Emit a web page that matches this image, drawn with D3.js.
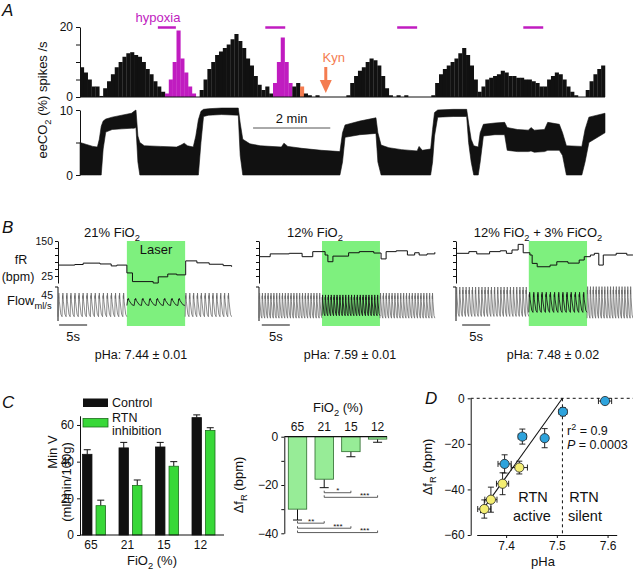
<!DOCTYPE html>
<html>
<head>
<meta charset="utf-8">
<script src="https://cdn.jsdelivr.net/npm/d3@7"></script>
<style>
  body { margin: 0; background: #fff; }
  svg { display: block; font-family: "Liberation Sans", Arial, Helvetica, sans-serif; }
</style>
</head>
<body>
<svg id="fig" width="633" height="573"></svg>
<script>
// ---------------- data ----------------
// Panel A: RTN spike rate, 6 s bins
const binSec = 6;
const spikes = [8.5, 7, 5, 3, 3, 0.3, 2.5, 4.5, 6.5, 8.5,
  10, 11.5, 12.5, 12.8, 12, 11.5, 10, 8, 6.5, 4.5,
  3, 1.5, 1, 5, 10, 19, 11, 7, 3, 1,
  0, 2, 5, 8, 10, 12, 13, 14, 15, 16.5,
  18, 16, 14, 11, 9, 6, 3.5, 2, 3, 1,
  4, 10, 17, 10, 4, 3, 4, 3, 1, 0.5,
  0, 0.5, 0, 0, 0, 0, 0, 0, 0, 0.5,
  4, 6, 7.5, 8.5, 10, 11, 10.5, 9, 6, 2.5,
  0.5, 0, 0.5, 0, 0.5, 0, 0, 0, 0, 0,
  0, 0.5, 4, 6.5, 8, 9, 10, 11, 12.5, 14,
  12, 9, 5, 1.5, 3, 5, 5.5, 6, 6.5, 7.5,
  7, 6, 6, 5.5, 5.5, 5, 5, 4.5, 4, 3,
  3, 5, 6, 7, 6.5, 5, 3, 1.5, 0.5, 0,
  0, 2, 4.5, 6.5, 8, 9];
const hypoxiaBins = [[22, 29], [50, 54]];
const kynBins = [[57, 57]];
const hypoxiaBars = [[121, 149], [288, 319], [493, 524], [689, 720]]; // seconds
const kynTime = 382;
const scaleBarA = [269, 389]; // 2 min

// end-expiratory CO2 envelope (time s, upper %, lower %)
const co2T = [0, 10, 20, 27, 30, 33, 36, 40, 50, 65, 80, 84, 87, 90, 93, 100, 125, 150, 157, 162,
  167, 176, 180, 184, 188, 192, 200, 220, 246, 249, 253, 264, 280, 313, 317, 323, 345, 375, 404, 408,
  412, 435, 460, 463, 468, 480, 500, 524, 527, 532, 545, 548, 551, 556, 580, 601, 604, 608, 612, 619,
  622, 627, 645, 660, 664, 680, 697, 701, 706, 722, 727, 745, 750, 756, 780, 785, 791, 816];
const co2Up = [5.0, 4.7, 4.4, 4.3, 5.5, 7.5, 8.3, 8.6, 8.9, 9.2, 9.5, 9.8, 10.0, 6.0, 5.0, 4.5, 4.4, 4.3, 4.6, 4.9,
  4.5, 4.3, 6.0, 8.5, 9.8, 10.1, 10.2, 10.3, 10.3, 8.0, 5.5, 4.8, 4.5, 4.3, 4.9, 4.4, 4.1, 3.8, 3.6, 6.5,
  7.7, 8.3, 8.8, 6.5, 4.6, 4.2, 3.9, 3.7, 4.4, 3.8, 4.0, 7.0, 9.6, 10.0, 10.1, 10.1, 8.0, 5.5, 4.5, 4.3,
  6.5, 7.8, 8.0, 8.1, 7.3, 7.0, 6.9, 7.3, 6.9, 7.0, 8.1, 7.8, 6.5, 4.5, 4.4, 7.0, 8.9, 9.5];
const co2Lo = [0, 0, 0, 0, 0, 0, 4, 6.6, 7.0, 7.1, 7.2, 7.2, 7.3, 2, 0, 0, 0, 0, 0, 0,
  0, 0, 0, 0, 5, 9.0, 9.2, 9.3, 9.2, 3, 0, 0, 0, 0, 0, 0, 0, 0, 0, 2,
  5.8, 6.2, 6.4, 2, 0, 0, 0, 0, 0, 0, 0, 2, 6, 8.9, 9.0, 9.0, 5, 2, 0, 0,
  2, 6.0, 6.2, 6.2, 3.8, 3.6, 3.6, 3.7, 3.5, 3.6, 3.8, 3.8, 3, 0, 0, 2, 5.0, 6.5];

// Panel B: breathing frequency steps [t s, bpm]
const fR1 = [[0, 64], [3, 66], [4.5, 71], [7.5, 68], [9.5, 61], [10.5, 64], [12.3, 36], [13.3, 5], [17, 0],
  [17.9, 22], [19.6, 32], [21.2, 29], [22.8, 79], [24.8, 72], [27, 67], [29.5, 62], [31, 58]];
const fR2 = [[0, 94], [2, 104], [5.4, 106], [7.7, 94], [9.6, 112], [11.8, 100], [12.3, 76], [13.2, 96], [16, 108],
  [17.9, 112], [20.5, 107], [21.8, 86], [22.7, 112], [24.5, 115], [26.5, 100], [27.8, 108], [28.6, 100], [30, 104], [31.4, 110]];
const fR3 = [[0, 106], [2.3, 112], [3.7, 104], [6, 112], [7.9, 115], [9, 106], [10, 118], [11.1, 138], [12, 108],
  [13.2, 100], [13.6, 70], [14.5, 58], [16.8, 64], [18, 76], [20, 71], [22, 82], [22.9, 94], [24, 100], [24.7, 106],
  [25.5, 64], [26.3, 100], [28.6, 106], [30.5, 100], [31.6, 100]];
// airflow segments [t0, t1, breaths, offset ml/s, amplitude ml/s]
const flow1 = [[0, 12.3, 17, -4, 33], [12.3, 22.7, 8, 5, 10], [22.7, 31, 12, -4, 33]];
const flow2 = [[0, 11.25, 22, -6, 35], [11.25, 21.6, 20, -5, 29], [21.6, 31.4, 19, -6, 35]];
const flow3 = [[0, 13, 23, 4, 41], [13, 23.4, 14, 3, 28], [23.4, 31.6, 16, 2, 44]];
const breathShape = [[0, -0.9], [0.12, 0.8], [0.16, 0.55], [0.2, 1.0], [0.32, 0.35], [0.7, -0.7], [1, -0.9]];
const lasers = [[12.3, 22.7], [11.25, 21.6], [13.0, 23.4]];
const phaText = ['pHa: 7.44 \u00b1 0.01', 'pHa: 7.59 \u00b1 0.01', 'pHa: 7.48 \u00b1 0.02'];

// Panel C
const fio2 = ['65', '21', '15', '12'];
const minVControl = [44, 47.5, 48, 64];
const minVControlErr = [2.5, 3, 2.5, 1.5];
const minVRtn = [16, 27, 37.5, 57];
const minVRtnErr = [3, 3, 2.5, 1.5];
const dfR = [-30, -17.6, -6.2, -1];
const dfRErr = [4.5, 3.5, 2.1, 1.3];
const sigPairs = [[1, 2, '*', -23.2], [1, 3, '***', -25.1], [0, 1, '**', -35.8], [0, 2, '***', -37.9], [0, 3, '***', -39.7]];

// Panel D
const phBlue = [7.595, 7.512, 7.432, 7.476, 7.397];
const dfBlue = [-1.2, -5.9, -16.8, -17.5, -28.8];
const phBlueErr = [0.013, 0.008, 0.008, 0.006, 0.013];
const dfBlueErr = [1, 1.8, 3.3, 4.2, 4];
const phYellow = [7.426, 7.393, 7.370, 7.357];
const dfYellow = [-30.4, -37.5, -44.5, -48.6];
const phYellowErr = [0.016, 0.012, 0.012, 0.013];
const dfYellowErr = [2.8, 4.8, 5.5, 4];
const regLine = [[7.349, -50.4], [7.511, 0]];
const phThreshold = 7.511;

// ---------------- drawing ----------------
const svg = d3.select('#fig');
const INK = '#111';
const MAGENTA = '#c01cc0';
const ORANGE = '#f47c50';

function label(g, x, y, parts, size, opts = {}) {
  const t = g.append('text').attr('x', x).attr('y', y)
    .attr('font-size', size)
    .attr('text-anchor', opts.anchor || 'start')
    .attr('fill', opts.fill || INK);
  if (opts.italic) t.attr('font-style', 'italic');
  if (opts.rotate) t.attr('transform', `rotate(-90,${x},${y})`);
  let shift = 0;
  parts.forEach(p => {
    const [s, kind] = typeof p === 'string' ? [p, null] : p;
    const target = kind === 'sub' ? size * 0.3 : kind === 'sup' ? -size * 0.42 : 0;
    const ts = t.append('tspan').text(s).attr('dy', target - shift);
    if (kind) ts.attr('font-size', size * 0.72);
    if (opts.italicParts && opts.italicParts.includes(s)) ts.attr('font-style', 'italic');
    shift = target;
  });
  return t;
}

function styleAxis(g, size) {
  g.attr('font-family', null).attr('font-size', size);
  g.selectAll('path, line').attr('stroke', INK);
  g.selectAll('text').attr('fill', INK);
}

// ---- Panel A ----
const gA = svg.append('g');
label(gA, 2, 16, ['A'], 17, { italic: true });

const xA = d3.scaleLinear().domain([0, 816]).range([80, 605]);
const ySp = d3.scaleLinear().domain([0, 20]).range([97, 27]);
const yCo2 = d3.scaleLinear().domain([0, 10]).range([175, 110]);

function binColor(i) {
  if (hypoxiaBins.some(r => i >= r[0] && i <= r[1])) return MAGENTA;
  if (kynBins.some(r => i >= r[0] && i <= r[1])) return ORANGE;
  return INK;
}

gA.append('g').selectAll('rect')
  .data(spikes)
  .join('rect')
  .attr('x', (d, i) => xA(i * binSec))
  .attr('width', xA(binSec) - xA(0) + 0.25)
  .attr('y', d => ySp(d))
  .attr('height', d => ySp(0) - ySp(d))
  .attr('fill', (d, i) => binColor(i));

gA.append('line').attr('x1', xA(0)).attr('x2', xA(816))
  .attr('y1', ySp(0)).attr('y2', ySp(0)).attr('stroke', INK).attr('stroke-width', 1);

const axSp = gA.append('g').attr('transform', `translate(${xA(0)},0)`)
  .call(d3.axisLeft(ySp).tickValues([0, 5, 10, 15, 20]).tickSize(4).tickSizeOuter(0)
    .tickFormat(d => (d === 0 || d === 20) ? d : ''));
styleAxis(axSp, 12);
axSp.selectAll('text').attr('dy', '0.25em');

const co2Data = co2T.map((t, i) => ({ t, up: co2Up[i], lo: co2Lo[i] }));
gA.append('path').datum(co2Data)
  .attr('d', d3.area().x(d => xA(d.t)).y0(d => yCo2(d.lo)).y1(d => yCo2(d.up)))
  .attr('fill', INK).attr('stroke', INK).attr('stroke-width', 0.6);

const axCo2 = gA.append('g').attr('transform', `translate(${xA(0)},0)`)
  .call(d3.axisLeft(yCo2).tickValues([0, 5, 10]).tickSize(4).tickSizeOuter(0)
    .tickFormat(d => d === 5 ? '' : d));
styleAxis(axCo2, 12);
axCo2.selectAll('text').attr('dy', '0.4em');

label(gA, 47, 100, ['eeCO', ['2', 'sub'], ' (%) spikes /s'], 13, { rotate: true, anchor: 'middle' });

// hypoxia bars and label
gA.append('g').selectAll('line').data(hypoxiaBars).join('line')
  .attr('x1', d => xA(d[0])).attr('x2', d => xA(d[1]))
  .attr('y1', 27.5).attr('y2', 27.5)
  .attr('stroke', MAGENTA).attr('stroke-width', 2.5);
label(gA, 158, 22, ['hypoxia'], 13, { anchor: 'middle', fill: MAGENTA });

// Kyn arrow
const kx = xA(kynTime);
label(gA, kx + 8, 62, ['Kyn'], 13, { anchor: 'middle', fill: ORANGE });
gA.append('line').attr('x1', kx).attr('x2', kx).attr('y1', 67).attr('y2', 82)
  .attr('stroke', ORANGE).attr('stroke-width', 3);
gA.append('path').attr('d', `M${kx - 6},80 L${kx + 6},80 L${kx},93 Z`).attr('fill', ORANGE);

// 2 min scale bar
gA.append('line').attr('x1', xA(scaleBarA[0])).attr('x2', xA(scaleBarA[1]))
  .attr('y1', 128).attr('y2', 128).attr('stroke', '#555').attr('stroke-width', 1);
label(gA, (xA(scaleBarA[0]) + xA(scaleBarA[1])) / 2, 123, ['2 min'], 13, { anchor: 'middle' });

// ---- Panel B ----
const gB = svg.append('g');
label(gB, 2, 233, ['B'], 17, { italic: true });

const secPx = 5.6;
const yFR = d3.scaleLinear().domain([0, 150]).range([283, 241]);
const yFlow = d3.scaleLinear().domain([-45, 45]).range([321, 287]);

const subB = [
  { x0: 58, fR: fR1, flow: flow1, laser: lasers[0], title: ['21% FiO', ['2', 'sub']], tx: 112, phx: 141, bar: 0.2 },
  { x0: 259, fR: fR2, flow: flow2, laser: lasers[1], title: ['12% FiO', ['2', 'sub']], tx: 315, phx: 350, bar: 0.5 },
  { x0: 456, fR: fR3, flow: flow3, laser: lasers[2], title: ['12% FiO', ['2', 'sub'], ' + 3% FiCO', ['2', 'sub']], tx: 538, phx: 553, bar: 1.1 }
];

subB.forEach((p, k) => {
  const g = gB.append('g');
  const xs = d3.scaleLinear().domain([0, 1]).range([p.x0, p.x0 + secPx]);

  g.append('rect')
    .attr('x', xs(p.laser[0])).attr('width', xs(p.laser[1]) - xs(p.laser[0]))
    .attr('y', 241).attr('height', 85)
    .attr('fill', '#7ef07e');
  if (k === 0) label(g, (xs(p.laser[0]) + xs(p.laser[1])) / 2, 254, ['Laser'], 13, { anchor: 'middle' });

  label(g, p.tx, 237, p.title, 13, { anchor: 'middle' });

  // fR axis
  const axF = g.append('g').attr('transform', `translate(${p.x0},0)`)
    .call(d3.axisLeft(yFR).tickValues([25, 50, 75, 100, 125, 150]).tickSize(3).tickSizeOuter(0).tickPadding(2)
      .tickFormat(d => (k === 0 && (d === 25 || d === 150)) ? d : ''));
  styleAxis(axF, 10.5);

  g.append('path').datum(p.fR)
    .attr('d', d3.line().curve(d3.curveStepAfter).x(d => xs(d[0])).y(d => yFR(d[1])))
    .attr('fill', 'none').attr('stroke', INK).attr('stroke-width', 1);

  // flow axis
  g.append('line').attr('x1', p.x0).attr('x2', p.x0).attr('y1', 287).attr('y2', 321)
    .attr('stroke', INK).attr('stroke-width', 1);
  g.append('line').attr('x1', p.x0 - 3).attr('x2', p.x0).attr('y1', yFlow(45)).attr('y2', yFlow(45))
    .attr('stroke', INK).attr('stroke-width', 1);

  p.flow.forEach((s, si) => {
    const [t0, t1, n, off, amp] = s;
    const per = (t1 - t0) / n;
    const pts = [];
    for (let b = 0; b < n; b++) {
      breathShape.forEach(([ph, v]) => pts.push([t0 + (b + ph) * per, off + v * amp]));
    }
    g.append('path').datum(pts)
      .attr('d', d3.line().x(d => xs(d[0])).y(d => yFlow(d[1])))
      .attr('fill', 'none')
      .attr('stroke', si === 1 ? '#1a1a1a' : '#666')
      .attr('stroke-width', si === 1 ? 0.9 : 0.75);
  });

  // 5 s scale bar
  g.append('line').attr('x1', xs(p.bar)).attr('x2', xs(p.bar + 5))
    .attr('y1', 325).attr('y2', 325).attr('stroke', INK).attr('stroke-width', 1);
  label(g, xs(p.bar + 2.5), 341, ['5s'], 13, { anchor: 'middle' });

  label(g, p.phx, 359, [phaText[k]], 12.5, { anchor: 'middle' });
});

label(gB, 21, 264, ['fR'], 12.5, { anchor: 'middle' });
label(gB, 18, 281, ['(bpm)'], 12.5, { anchor: 'middle' });
label(gB, 7, 305, ['Flow', ['ml/s', 'sub']], 13);
label(gB, 53, 299, ['45'], 10.5, { anchor: 'end' });

// ---- Panel C ----
const gC = svg.append('g');
label(gC, 2, 408, ['C'], 17, { italic: true });

const xC = d3.scaleBand().domain(fio2).range([75.75, 221.75]);
const xSer = d3.scaleBand().domain(['c', 'r']).range([-11.5, 11.5]).paddingInner(0.3);
const yMin = d3.scaleLinear().domain([0, 65]).range([535, 415.8]);

const GREEN = '#38d838';
const series = [
  { key: 'c', v: minVControl, e: minVControlErr, fill: INK, stroke: INK },
  { key: 'r', v: minVRtn, e: minVRtnErr, fill: GREEN, stroke: '#1c6e1c' }
];
series.forEach(s => {
  const g = gC.append('g');
  const bx = (d, i) => xC(fio2[i]) + xC.bandwidth() / 2 + xSer(s.key);
  g.selectAll('line.err').data(s.v).join('line')
    .attr('x1', (d, i) => bx(d, i) + xSer.bandwidth() / 2)
    .attr('x2', (d, i) => bx(d, i) + xSer.bandwidth() / 2)
    .attr('y1', d => yMin(d)).attr('y2', (d, i) => yMin(d + s.e[i]))
    .attr('stroke', INK);
  g.selectAll('line.cap').data(s.v).join('line')
    .attr('x1', (d, i) => bx(d, i) + xSer.bandwidth() / 2 - 3.5)
    .attr('x2', (d, i) => bx(d, i) + xSer.bandwidth() / 2 + 3.5)
    .attr('y1', (d, i) => yMin(d + s.e[i])).attr('y2', (d, i) => yMin(d + s.e[i]))
    .attr('stroke', INK);
  g.selectAll('rect').data(s.v).join('rect')
    .attr('x', bx).attr('width', xSer.bandwidth())
    .attr('y', d => yMin(d)).attr('height', d => yMin(0) - yMin(d))
    .attr('fill', s.fill).attr('stroke', s.stroke).attr('stroke-width', 0.8);
});

const axMin = gC.append('g').attr('transform', 'translate(80,0)')
  .call(d3.axisLeft(yMin).tickValues([0, 20, 40, 60]).tickSize(3).tickSizeOuter(0).tickPadding(3));
styleAxis(axMin, 12);
gC.append('line').attr('x1', 80).attr('x2', 224).attr('y1', 535).attr('y2', 535).attr('stroke', INK);
gC.append('g').selectAll('text').data(fio2).join('text')
  .attr('x', d => xC(d) + xC.bandwidth() / 2 - 3).attr('y', 549)
  .attr('text-anchor', 'middle').attr('font-size', 12).attr('fill', INK).text(d => d);
label(gC, 152, 565, ['FiO', ['2', 'sub'], ' (%)'], 13, { anchor: 'middle' });
label(gC, 57, 452, ['Min V'], 13, { rotate: true, anchor: 'middle' });
label(gC, 71, 482, ['(ml/min/100g)'], 13, { rotate: true, anchor: 'middle' });

// legend
gC.append('rect').attr('x', 83).attr('y', 398.5).attr('width', 25).attr('height', 8.5).attr('fill', INK);
label(gC, 112, 406.5, ['Control'], 12.5);
gC.append('rect').attr('x', 83).attr('y', 418.5).attr('width', 25).attr('height', 8.5)
  .attr('fill', GREEN).attr('stroke', '#1c6e1c').attr('stroke-width', 0.8);
label(gC, 112, 421.5, ['RTN'], 12.5);
label(gC, 112, 434.5, ['inhibition'], 12.5);

// delta fR bars
const xD = d3.scaleBand().domain(fio2).range([284.3, 390.8]).paddingInner(0.31).paddingOuter(0.15);
const yDf = d3.scaleLinear().domain([-40, 0]).range([533.3, 436.7]);
const PALE = '#97ec97';
const gDf = gC.append('g');
gDf.selectAll('line.err').data(dfR).join('line')
  .attr('x1', (d, i) => xD(fio2[i]) + xD.bandwidth() / 2)
  .attr('x2', (d, i) => xD(fio2[i]) + xD.bandwidth() / 2)
  .attr('y1', d => yDf(d)).attr('y2', (d, i) => yDf(d - dfRErr[i])).attr('stroke', INK);
gDf.selectAll('line.cap').data(dfR).join('line')
  .attr('x1', (d, i) => xD(fio2[i]) + xD.bandwidth() / 2 - 4.5)
  .attr('x2', (d, i) => xD(fio2[i]) + xD.bandwidth() / 2 + 4.5)
  .attr('y1', (d, i) => yDf(d - dfRErr[i])).attr('y2', (d, i) => yDf(d - dfRErr[i])).attr('stroke', INK);
gDf.selectAll('rect').data(dfR).join('rect')
  .attr('x', (d, i) => xD(fio2[i])).attr('width', xD.bandwidth())
  .attr('y', yDf(0)).attr('height', d => yDf(d) - yDf(0))
  .attr('fill', PALE).attr('stroke', '#2b6a2b').attr('stroke-width', 0.8);

const axDf = gC.append('g').attr('transform', 'translate(284.3,0)')
  .call(d3.axisLeft(yDf).tickValues([0, -10, -20, -30, -40]).tickSize(3).tickSizeOuter(0).tickPadding(3)
    .tickFormat(d => d % 20 === 0 ? (d < 0 ? '\u2212' + (-d) : d) : ''));
styleAxis(axDf, 12);
gC.append('line').attr('x1', 284.3).attr('x2', 387).attr('y1', yDf(0)).attr('y2', yDf(0))
  .attr('stroke', INK).attr('stroke-width', 1.2);
gC.append('g').selectAll('text').data(fio2).join('text')
  .attr('x', d => xD(d) + xD.bandwidth() / 2).attr('y', 431)
  .attr('text-anchor', 'middle').attr('font-size', 12).attr('fill', INK).text(d => d);
label(gC, 338, 412, ['FiO', ['2', 'sub'], ' (%)'], 13, { anchor: 'middle' });
label(gC, 243, 485, ['\u0394f', ['R', 'sub'], ' (bpm)'], 13, { rotate: true, anchor: 'middle' });

// significance brackets
const cx = i => xD(fio2[i]) + xD.bandwidth() / 2;
const gSig = gC.append('g');
sigPairs.forEach(([a, b, star, lvl]) => {
  const y = yDf(lvl);
  gSig.append('path')
    .attr('d', `M${cx(a)},${y - 2} L${cx(a)},${y} L${cx(b)},${y} L${cx(b)},${y - 2}`)
    .attr('fill', 'none').attr('stroke', '#333').attr('stroke-width', 0.8);
  gSig.append('text').attr('x', cx(b) - 13).attr('y', y + 0.5)
    .attr('text-anchor', 'middle').attr('font-size', 8).attr('fill', INK).text(star);
});

// ---- Panel D ----
const gD = svg.append('g');
label(gD, 425, 404, ['D'], 17, { italic: true });

const xPh = d3.scaleLinear().domain([7.342, 7.618]).range([476.7, 616.7]);
const yD = d3.scaleLinear().domain([-60, 0]).range([535, 398.3]);

gD.append('line').attr('x1', 470.7).attr('x2', 633).attr('y1', yD(0)).attr('y2', yD(0))
  .attr('stroke', INK).attr('stroke-dasharray', '3,3');
gD.append('line').attr('x1', xPh(phThreshold)).attr('x2', xPh(phThreshold))
  .attr('y1', yD(0)).attr('y2', yD(-60))
  .attr('stroke', INK).attr('stroke-dasharray', '3,3');

gD.append('path').datum(regLine)
  .attr('d', d3.line().x(d => xPh(d[0])).y(d => yD(d[1])))
  .attr('stroke', INK).attr('stroke-width', 1.1).attr('fill', 'none');

function drawPoints(ph, df, phE, dfE, fill) {
  const g = gD.append('g');
  ph.forEach((p, i) => {
    const x = xPh(p), y = yD(df[i]);
    const xl = xPh(p - phE[i]), xr = xPh(p + phE[i]);
    const yt = yD(df[i] + dfE[i]), yb = yD(df[i] - dfE[i]);
    g.append('path')
      .attr('d', `M${xl},${y} L${xr},${y} M${xl},${y - 3} L${xl},${y + 3} M${xr},${y - 3} L${xr},${y + 3}` +
        ` M${x},${yt} L${x},${yb} M${x - 3},${yt} L${x + 3},${yt} M${x - 3},${yb} L${x + 3},${yb}`)
      .attr('stroke', INK).attr('stroke-width', 0.9).attr('fill', 'none');
  });
  g.selectAll('circle').data(ph).join('circle')
    .attr('cx', d => xPh(d)).attr('cy', (d, i) => yD(df[i])).attr('r', 4.6)
    .attr('fill', fill).attr('stroke', '#222').attr('stroke-width', 0.8);
}
drawPoints(phBlue, dfBlue, phBlueErr, dfBlueErr, '#2ea3dc');
drawPoints(phYellow, dfYellow, phYellowErr, dfYellowErr, '#f4ee72');

const axDy = gD.append('g').attr('transform', 'translate(470.7,0)')
  .call(d3.axisLeft(yD).tickValues([0, -20, -40, -60]).tickSize(3).tickSizeOuter(0).tickPadding(3)
    .tickFormat(d => d < 0 ? '\u2212' + (-d) : d));
styleAxis(axDy, 12);
const axDx = gD.append('g').attr('transform', 'translate(0,535)')
  .call(d3.axisBottom(xPh).tickValues([7.4, 7.5, 7.6]).tickSize(3).tickSizeOuter(0).tickPadding(3)
    .tickFormat(d3.format('.1f')));
styleAxis(axDx, 12);

label(gD, 543, 566, ['pHa'], 13, { anchor: 'middle' });
label(gD, 432, 467, ['\u0394f', ['R', 'sub'], ' (bpm)'], 13, { rotate: true, anchor: 'middle' });

label(gD, 567, 435, ['r', ['2', 'sup'], ' = 0.9'], 12.5);
label(gD, 567, 449, ['P', ' = 0.0003'], 12.5, { italicParts: ['P'] });

label(gD, 533, 502, ['RTN'], 14.5, { anchor: 'middle' });
label(gD, 532, 521, ['active'], 14.5, { anchor: 'middle' });
label(gD, 584, 502, ['RTN'], 14.5, { anchor: 'middle' });
label(gD, 585, 521, ['silent'], 14.5, { anchor: 'middle' });
</script>
</body>
</html>
